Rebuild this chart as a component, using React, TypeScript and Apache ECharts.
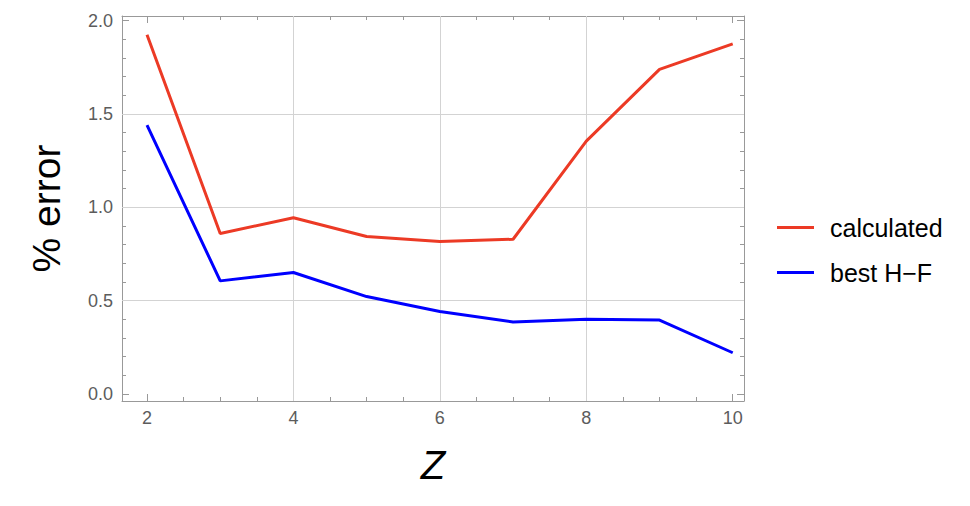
import React, { useEffect, useRef } from "react";
import * as echarts from "echarts";

const zValues = [2, 3, 4, 5, 6, 7, 8, 9, 10];
const calculated = [1.925, 0.86, 0.944, 0.844, 0.817, 0.829, 1.355, 1.739, 1.876];
const bestHF = [1.441, 0.606, 0.651, 0.522, 0.442, 0.386, 0.4, 0.396, 0.221];

const xMajorTicks = [2, 4, 6, 8, 10];
const xMinorTicks = [2.5, 3, 3.5, 4.5, 5, 5.5, 6.5, 7, 7.5, 8.5, 9, 9.5];
const yMajorTicks = [0, 0.5, 1, 1.5, 2];
const yMinorTicks = [0.1, 0.2, 0.3, 0.4, 0.6, 0.7, 0.8, 0.9, 1.1, 1.2, 1.3, 1.4, 1.6, 1.7, 1.8, 1.9];
const xGridLines = [4, 6, 8];
const yGridLines = [0.5, 1, 1.5];

const X_MIN = 1.6585;
const X_MAX = 10.154;
const Y_MIN = -0.0375;
const Y_MAX = 2.025;

const FONT = "'Liberation Sans', Arial, Helvetica, sans-serif";
const FRAME = "#999999";
const LABEL = "#5c5c5c";

export default function App() {
  const ref = useRef<HTMLDivElement>(null);
  useEffect(() => {
    if (!ref.current) return;
    const chart = echarts.init(ref.current, undefined, { renderer: "svg" });
    const gridBox = { left: 122, top: 16, right: 226, bottom: 105, containLabel: false };
    const xMajor = (pos: string, labels: boolean, extra: any = {}) => ({
      type: "value",
      gridIndex: 0,
      position: pos,
      min: X_MIN,
      max: X_MAX,
      axisLine: { show: true, onZero: false, lineStyle: { color: FRAME, width: 1 } },
      axisTick: { show: true, inside: true, length: 7, customValues: xMajorTicks, lineStyle: { color: FRAME } },
      axisLabel: {
        show: labels,
        customValues: xMajorTicks,
        color: LABEL,
        fontSize: 18,
        fontFamily: FONT,
        margin: 8,
        formatter: (v: number) => String(v),
      },
      splitLine: { show: false },
      ...extra,
    });
    const xMinor = (pos: string) => ({
      type: "value",
      gridIndex: 1,
      position: pos,
      min: X_MIN,
      max: X_MAX,
      axisLine: { show: false, onZero: false },
      axisTick: { show: true, inside: true, length: 4, customValues: xMinorTicks, lineStyle: { color: FRAME } },
      axisLabel: { show: false },
      splitLine: { show: false },
    });
    const yMajor = (pos: string, labels: boolean, extra: any = {}) => ({
      type: "value",
      gridIndex: 0,
      position: pos,
      min: Y_MIN,
      max: Y_MAX,
      axisLine: { show: true, onZero: false, lineStyle: { color: FRAME, width: 1 } },
      axisTick: { show: true, inside: true, length: 7, customValues: yMajorTicks, lineStyle: { color: FRAME } },
      axisLabel: {
        show: labels,
        customValues: yMajorTicks,
        color: LABEL,
        fontSize: 18,
        fontFamily: FONT,
        margin: 9,
        formatter: (v: number) => v.toFixed(1),
      },
      splitLine: { show: false },
      ...extra,
    });
    const yMinor = (pos: string) => ({
      type: "value",
      gridIndex: 1,
      position: pos,
      min: Y_MIN,
      max: Y_MAX,
      axisLine: { show: false, onZero: false },
      axisTick: { show: true, inside: true, length: 4, customValues: yMinorTicks, lineStyle: { color: FRAME } },
      axisLabel: { show: false },
      splitLine: { show: false },
    });

    chart.setOption({
      animation: false,
      backgroundColor: "#ffffff",
      grid: [gridBox, gridBox],
      legend: {
        data: ["calculated", "best H\u2212F"],
        orient: "vertical",
        left: 777,
        top: 215,
        padding: 0,
        itemWidth: 37,
        itemHeight: 3,
        itemGap: 20,
        icon: "rect",
        textStyle: { fontSize: 25, fontFamily: FONT, color: "#000", lineHeight: 25, padding: [0, 0, 0, 11] },
        selectedMode: false,
      },
      xAxis: [
        xMajor("bottom", true, {
          name: "Z",
          nameLocation: "middle",
          nameGap: 44,
          nameTextStyle: { fontSize: 40, fontStyle: "italic", fontFamily: FONT, color: "#000" },
        }),
        xMajor("top", false),
        xMinor("bottom"),
        xMinor("top"),
      ],
      yAxis: [
        yMajor("left", true, {
          name: "% error",
          nameLocation: "middle",
          nameGap: 56,
          nameRotate: 90,
          nameTextStyle: { fontSize: 39, fontFamily: FONT, color: "#000" },
        }),
        yMajor("right", false),
        yMinor("left"),
        yMinor("right"),
      ],
      series: [
        {
          type: "line",
          xAxisIndex: 0,
          yAxisIndex: 0,
          data: [],
          z: 1,
          silent: true,
          markLine: {
            silent: true,
            z: 1,
            symbol: ["none", "none"],
            label: { show: false },
            lineStyle: { color: "#d3d3d3", width: 1, type: "solid" },
            emphasis: { disabled: true },
            data: [
              ...xGridLines.map((v) => ({ xAxis: v })),
              ...yGridLines.map((v) => ({ yAxis: v })),
            ],
          },
        },
        {
          name: "calculated",
          type: "line",
          xAxisIndex: 0,
          yAxisIndex: 0,
          z: 3,
          showSymbol: false,
          symbol: "none",
          lineStyle: { color: "#ec3a25", width: 3 },
          itemStyle: { color: "#ec3a25" },
          data: zValues.map((z, i) => [z, calculated[i]]),
        },
        {
          name: "best H\u2212F",
          type: "line",
          xAxisIndex: 0,
          yAxisIndex: 0,
          z: 3,
          showSymbol: false,
          symbol: "none",
          lineStyle: { color: "#0000ff", width: 3 },
          itemStyle: { color: "#0000ff" },
          data: zValues.map((z, i) => [z, bestHF[i]]),
        },
      ],
    });
    return () => chart.dispose();
  }, []);
  return (
    <div
      ref={ref}
      style={{ position: "fixed", left: 0, top: 0, width: 970, height: 506, background: "#fff" }}
    />
  );
}
